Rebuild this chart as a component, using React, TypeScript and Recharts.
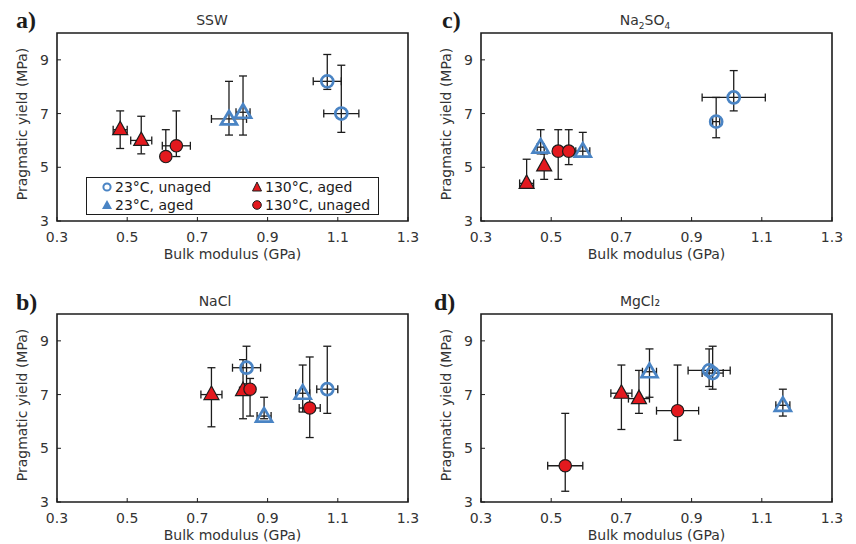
import { ScatterChart, Scatter, XAxis, YAxis, ErrorBar, ReferenceArea, Legend } from "recharts";

// point: x, x error, y, y low end, y high end
type Pt = { x: number; xe: number; y: number; ylo: number; yhi: number };

const xTicks = [0.3, 0.5, 0.7, 0.9, 1.1, 1.3];
const yTicks = [3, 5, 7, 9];

// a) SSW
const sswUnaged23: Pt[] = [
  { x: 1.07, xe: 0.04, y: 8.2, ylo: 7.9, yhi: 9.2 },
  { x: 1.11, xe: 0.05, y: 7.0, ylo: 6.3, yhi: 8.8 },
];
const sswAged23: Pt[] = [
  { x: 0.79, xe: 0.05, y: 6.8, ylo: 6.2, yhi: 8.2 },
  { x: 0.83, xe: 0.02, y: 7.05, ylo: 6.2, yhi: 8.4 },
];
const sswAged130: Pt[] = [
  { x: 0.48, xe: 0.02, y: 6.4, ylo: 5.7, yhi: 7.1 },
  { x: 0.54, xe: 0.03, y: 6.0, ylo: 5.5, yhi: 6.9 },
];
const sswUnaged130: Pt[] = [
  { x: 0.61, xe: 0.01, y: 5.4, ylo: 5.3, yhi: 6.4 },
  { x: 0.64, xe: 0.04, y: 5.8, ylo: 5.4, yhi: 7.1 },
];

// b) NaCl
const naclUnaged23: Pt[] = [
  { x: 0.84, xe: 0.04, y: 8.0, ylo: 7.4, yhi: 8.8 },
  { x: 1.07, xe: 0.03, y: 7.2, ylo: 6.3, yhi: 8.8 },
];
const naclAged23: Pt[] = [
  { x: 0.89, xe: 0.02, y: 6.2, ylo: 6.1, yhi: 6.9 },
  { x: 1.0, xe: 0.02, y: 7.05, ylo: 6.35, yhi: 8.1 },
];
const naclAged130: Pt[] = [
  { x: 0.74, xe: 0.03, y: 7.0, ylo: 5.8, yhi: 8.0 },
  { x: 0.83, xe: 0.01, y: 7.15, ylo: 6.1, yhi: 8.3 },
];
const naclUnaged130: Pt[] = [
  { x: 0.85, xe: 0.01, y: 7.2, ylo: 6.2, yhi: 7.6 },
  { x: 1.02, xe: 0.03, y: 6.5, ylo: 5.4, yhi: 8.4 },
];

// c) Na2SO4
const sulfUnaged23: Pt[] = [
  { x: 1.02, xe: 0.09, y: 7.6, ylo: 7.1, yhi: 8.6 },
  { x: 0.97, xe: 0.01, y: 6.7, ylo: 6.1, yhi: 7.6 },
];
const sulfAged23: Pt[] = [
  { x: 0.47, xe: 0.01, y: 5.75, ylo: 5.5, yhi: 6.4 },
  { x: 0.59, xe: 0.02, y: 5.6, ylo: 5.4, yhi: 6.3 },
];
const sulfAged130: Pt[] = [
  { x: 0.43, xe: 0.02, y: 4.4, ylo: 4.3, yhi: 5.3 },
  { x: 0.48, xe: 0.005, y: 5.05, ylo: 4.55, yhi: 5.5 },
];
const sulfUnaged130: Pt[] = [
  { x: 0.52, xe: 0.01, y: 5.6, ylo: 4.55, yhi: 6.4 },
  { x: 0.55, xe: 0.01, y: 5.6, ylo: 5.1, yhi: 6.4 },
];

// d) MgCl2
const mgUnaged23: Pt[] = [
  { x: 0.95, xe: 0.06, y: 7.9, ylo: 7.3, yhi: 8.7 },
  { x: 0.96, xe: 0.03, y: 7.8, ylo: 7.2, yhi: 8.8 },
];
const mgAged23: Pt[] = [
  { x: 0.78, xe: 0.02, y: 7.85, ylo: 6.9, yhi: 8.7 },
  { x: 1.16, xe: 0.02, y: 6.6, ylo: 6.2, yhi: 7.2 },
];
const mgAged130: Pt[] = [
  { x: 0.7, xe: 0.03, y: 7.05, ylo: 5.7, yhi: 8.1 },
  { x: 0.75, xe: 0.03, y: 6.85, ylo: 6.3, yhi: 7.9 },
];
const mgUnaged130: Pt[] = [
  { x: 0.54, xe: 0.05, y: 4.35, ylo: 3.4, yhi: 6.3 },
  { x: 0.86, xe: 0.06, y: 6.4, ylo: 5.3, yhi: 8.1 },
];

const legendNames = ["23°C, unaged", "130°C, aged", "23°C, aged", "130°C, unaged"];

const BLUE = "#4a84c4";
const RED = "#e3191e";
const INK = "#1c1c1c";
const FONT = "'DejaVu Sans', Verdana, sans-serif";

// asymmetric y error as [down, up] offsets for ErrorBar
const withErr = (pts: Pt[]) => pts.map((d) => ({ ...d, ye: [d.y - d.ylo, d.yhi - d.y] }));

function OpenCircle(p: any) {
  return <circle cx={p.cx} cy={p.cy} r={6} fill="none" stroke={BLUE} strokeWidth={2.7} />;
}
function OpenTriangle(p: any) {
  const { cx, cy } = p;
  return (
    <polygon
      points={`${cx},${cy - 8} ${cx - 8},${cy + 5.5} ${cx + 8},${cy + 5.5}`}
      fill="none"
      stroke={BLUE}
      strokeWidth={2.7}
    />
  );
}
function RedTriangle(p: any) {
  const { cx, cy } = p;
  return (
    <polygon
      points={`${cx},${cy - 8.5} ${cx - 7.5},${cy + 5} ${cx + 7.5},${cy + 5}`}
      fill={RED}
      stroke={INK}
      strokeWidth={1.2}
    />
  );
}
function RedCircle(p: any) {
  return <circle cx={p.cx} cy={p.cy} r={6.2} fill={RED} stroke={INK} strokeWidth={1.2} />;
}

const legendShapes: Record<string, JSX.Element> = {
  "23°C, unaged": <circle cx={6} cy={6} r={3.6} fill="none" stroke={BLUE} strokeWidth={2} />,
  "130°C, aged": <polygon points="6,1 1.5,10 10.5,10" fill={RED} stroke={INK} strokeWidth={1} />,
  "23°C, aged": <polygon points="6,1 1,10 11,10" fill={BLUE} />,
  "130°C, unaged": <circle cx={6} cy={6} r={4.3} fill={RED} stroke={INK} strokeWidth={1} />,
};

function LegendBox() {
  return (
    <div
      style={{
        border: `1px solid ${INK}`,
        background: "#fff",
        width: 291,
        height: 36,
        display: "grid",
        gridTemplateColumns: "150px 141px",
        alignItems: "center",
        fontFamily: FONT,
        fontSize: 14,
        color: INK,
      }}
    >
      {legendNames.map((n) => (
        <div key={n} style={{ display: "flex", alignItems: "center", paddingLeft: 14, lineHeight: "17px" }}>
          <svg width={12} height={12} style={{ marginRight: 2 }}>
            {legendShapes[n]}
          </svg>
          {n}
        </div>
      ))}
    </div>
  );
}

function XTick(p: any) {
  return (
    <g>
      <line x1={p.x} x2={p.x} y1={p.y - 8} y2={p.y - 12} stroke={INK} strokeWidth={1} />
      <text x={p.x} y={p.y + 13} textAnchor="middle" fontSize={14} fill="#333" fontFamily={FONT}>
        {p.payload.value}
      </text>
    </g>
  );
}
function YTick(p: any) {
  return (
    <g>
      <line x1={p.x + 8} x2={p.x + 12} y1={p.y} y2={p.y} stroke={INK} strokeWidth={1} />
      <text x={p.x} y={p.y + 5} textAnchor="end" fontSize={14} fill="#333" fontFamily={FONT}>
        {p.payload.value}
      </text>
    </g>
  );
}

function YLabel(props: any) {
  const vb = props.viewBox;
  const x = vb.x + 23;
  const y = vb.y + vb.height / 2 - 3;
  return (
    <text x={x} y={y} transform={`rotate(-90 ${x} ${y})`} textAnchor="middle" dominantBaseline="middle" fontSize={14} fill="#333" fontFamily={FONT}>
      Pragmatic yield (MPa)
    </text>
  );
}

type PanelProps = {
  left: number;
  top: number;
  unaged23: Pt[];
  aged23: Pt[];
  aged130: Pt[];
  unaged130: Pt[];
  legend?: boolean;
};

function Panel({ left, top, unaged23, aged23, aged130, unaged130, legend }: PanelProps) {
  const series = [
    { name: legendNames[0], data: withErr(unaged23), shape: OpenCircle },
    { name: legendNames[2], data: withErr(aged23), shape: OpenTriangle },
    { name: legendNames[1], data: withErr(aged130), shape: RedTriangle },
    { name: legendNames[3], data: withErr(unaged130), shape: RedCircle },
  ];
  return (
    <div style={{ position: "absolute", left, top }}>
      <ScatterChart width={428} height={262} margin={{ top: 33, right: 20, bottom: 1, left: 0 }}>
        <XAxis
          type="number"
          dataKey="x"
          domain={[0.3, 1.3]}
          ticks={xTicks}
          allowDataOverflow
          axisLine={false}
          tickLine={false}
          tickSize={0}
          tickMargin={8}
          tick={<XTick />}
          height={40}
          label={{ value: "Bulk modulus (GPa)", position: "insideBottom", offset: 2, fontSize: 14, fill: "#333", fontFamily: FONT }}
        />
        <YAxis
          type="number"
          dataKey="y"
          domain={[3, 10]}
          ticks={yTicks}
          allowDataOverflow
          axisLine={false}
          tickLine={false}
          tickSize={0}
          tickMargin={8}
          tick={<YTick />}
          width={57}
          label={{ content: YLabel }}
        />
        <ReferenceArea x1={0.3} x2={1.3} y1={3} y2={10} fill="none" stroke={INK} strokeWidth={1.6} fillOpacity={0} />
        {series.map((s) => (
          <Scatter key={s.name} name={s.name} data={s.data} shape={(p: any) => <s.shape {...p} />} isAnimationActive={false}>
            <ErrorBar dataKey="xe" direction="x" width={4} stroke={INK} strokeWidth={1.3} />
            <ErrorBar dataKey="ye" direction="y" width={4} stroke={INK} strokeWidth={1.3} />
          </Scatter>
        ))}
        {legend && (
          <Legend
            layout="horizontal"
            verticalAlign="middle"
            align="center"
            content={() => <LegendBox />}
            wrapperStyle={{ left: 86, top: 177, width: 293, height: 38 }}
          />
        )}
      </ScatterChart>
    </div>
  );
}

const letterStyle: React.CSSProperties = {
  position: "absolute",
  fontFamily: "'Liberation Serif', 'Times New Roman', serif",
  fontWeight: 700,
  fontSize: 24,
  color: INK,
  lineHeight: "24px",
};
const titleStyle: React.CSSProperties = {
  position: "absolute",
  fontFamily: FONT,
  fontSize: 14,
  color: "#333",
  transform: "translateX(-50%)",
  lineHeight: "16px",
  whiteSpace: "nowrap",
};

export default function App() {
  return (
    <div style={{ position: "absolute", left: 0, top: 0, width: 856, height: 544, background: "#fff", overflow: "hidden" }}>
      <Panel left={0} top={0} unaged23={sswUnaged23} aged23={sswAged23} aged130={sswAged130} unaged130={sswUnaged130} legend />
      <Panel left={424} top={0} unaged23={sulfUnaged23} aged23={sulfAged23} aged130={sulfAged130} unaged130={sulfUnaged130} />
      <Panel left={0} top={281} unaged23={naclUnaged23} aged23={naclAged23} aged130={naclAged130} unaged130={naclUnaged130} />
      <Panel left={424} top={281} unaged23={mgUnaged23} aged23={mgAged23} aged130={mgAged130} unaged130={mgUnaged130} />

      <div style={{ ...letterStyle, left: 16, top: 8 }}>a)</div>
      <div style={{ ...letterStyle, left: 442, top: 8 }}>c)</div>
      <div style={{ ...letterStyle, left: 16, top: 290 }}>b)</div>
      <div style={{ ...letterStyle, left: 434, top: 290 }}>d)</div>

      <div style={{ ...titleStyle, left: 212, top: 12 }}>SSW</div>
      <div style={{ ...titleStyle, left: 645, top: 12 }}>
        Na<sub style={{ fontSize: 9 }}>2</sub>SO<sub style={{ fontSize: 9 }}>4</sub>
      </div>
      <div style={{ ...titleStyle, left: 215, top: 293 }}>NaCl</div>
      <div style={{ ...titleStyle, left: 640, top: 293 }}>MgCl₂</div>
    </div>
  );
}
